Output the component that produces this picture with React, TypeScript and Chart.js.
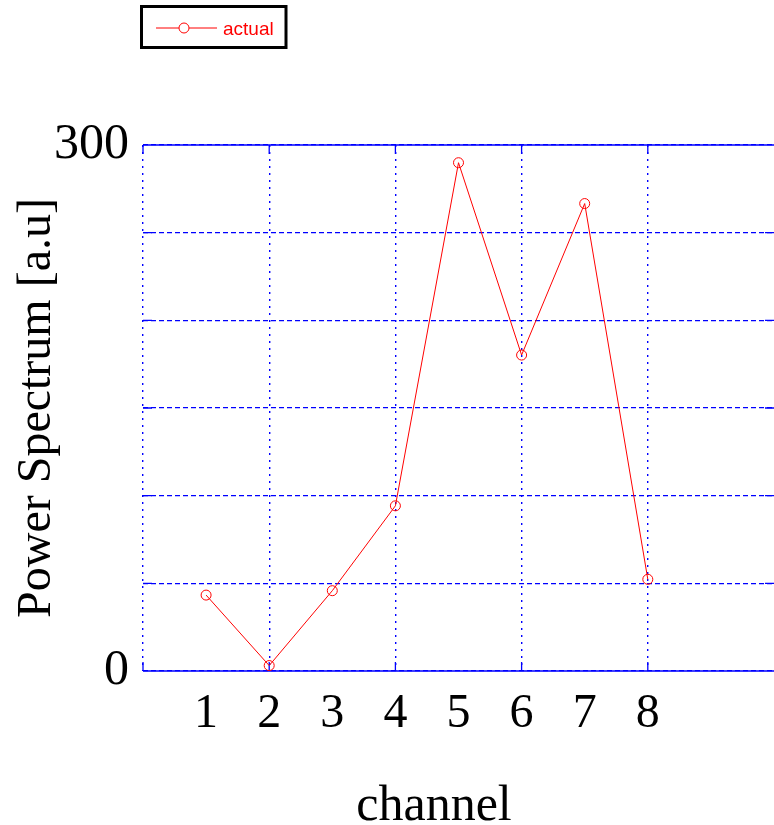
import React, { useEffect, useRef } from 'react';
import { Chart, registerables } from 'chart.js';

Chart.register(...registerables);

// Channel numbers and the measured power for each one
const channels = [1, 2, 3, 4, 5, 6, 7, 8];
const power = [43.3, 3.1, 45.8, 94.2, 289.9, 180.2, 266.6, 52.3];
// Only these y values get a printed label; the others keep grid lines only
const yLabelledTicks = [0, 300];
// x values that carry a vertical grid line
const xGridValues = [0, 2, 4, 6, 8];
const seriesLabel = 'actual';
const xTitle = 'channel';
const yTitle = 'Power Spectrum [a.u]';

const RED = 'rgb(255,0,0)';
const BLUE = 'rgb(0,0,255)';
const SERIF = '"Liberation Serif", "Times New Roman", serif';
const SANS = '"Liberation Sans", Arial, sans-serif';

// Solid top/bottom frame and short inward tick marks on all four sides
const framePlugin = {
  id: 'frame',
  beforeDatasetsDraw(chart: any) {
    const { ctx, chartArea, scales } = chart;
    const { left, right, top, bottom } = chartArea;
    const x = scales.x;
    const y = scales.y;
    ctx.save();
    ctx.strokeStyle = BLUE;
    ctx.lineWidth = 1.3;
    ctx.setLineDash([]);
    ctx.beginPath();
    ctx.moveTo(left, top);
    ctx.lineTo(right, top);
    ctx.moveTo(left, bottom);
    ctx.lineTo(right, bottom);
    y.ticks.forEach((t: any) => {
      const py = y.getPixelForValue(t.value);
      ctx.moveTo(left, py);
      ctx.lineTo(left + 9, py);
      ctx.moveTo(right, py);
      ctx.lineTo(right - 9, py);
    });
    x.ticks.forEach((t: any) => {
      if (xGridValues.includes(t.value)) {
        const px = x.getPixelForValue(t.value);
        ctx.moveTo(px, bottom);
        ctx.lineTo(px, bottom - 9);
        ctx.moveTo(px, top);
        ctx.lineTo(px, top + 9);
      }
    });
    ctx.stroke();
    ctx.restore();
  },
};

// Boxed legend in the top-left corner and the x-axis title
const annotatePlugin = {
  id: 'annotate',
  afterDraw(chart: any) {
    const { ctx } = chart;
    const ds = chart.data.datasets[0];
    ctx.save();
    // legend box
    ctx.strokeStyle = '#000';
    ctx.lineWidth = 3;
    ctx.strokeRect(141.5, 6.5, 144.5, 41);
    // sample line with marker
    ctx.strokeStyle = ds.borderColor;
    ctx.lineWidth = 1;
    ctx.beginPath();
    ctx.moveTo(156, 28);
    ctx.lineTo(179, 28);
    ctx.moveTo(189, 28);
    ctx.lineTo(217, 28);
    ctx.stroke();
    ctx.beginPath();
    ctx.arc(184, 28, 5, 0, Math.PI * 2);
    ctx.stroke();
    ctx.fillStyle = ds.borderColor;
    ctx.font = `19px ${SANS}`;
    ctx.textBaseline = 'alphabetic';
    ctx.textAlign = 'left';
    ctx.fillText(ds.label, 223, 35);
    // x-axis title
    ctx.fillStyle = '#000';
    ctx.font = `50px ${SERIF}`;
    ctx.textAlign = 'center';
    ctx.fillText(xTitle, 434, 820);
    ctx.restore();
  },
};

export default function App() {
  const canvasRef = useRef<HTMLCanvasElement | null>(null);

  useEffect(() => {
    const canvas = canvasRef.current;
    if (!canvas) return;
    const chart = new Chart(canvas, {
      type: 'line',
      data: {
        datasets: [
          {
            label: seriesLabel,
            data: channels.map((c, i) => ({ x: c, y: power[i] })),
            borderColor: RED,
            backgroundColor: 'rgba(0,0,0,0)',
            borderWidth: 1,
            pointRadius: 5,
            pointBorderWidth: 1,
            pointBorderColor: RED,
            pointBackgroundColor: 'rgba(0,0,0,0)',
            tension: 0,
            clip: false as any,
          },
        ],
      },
      options: {
        responsive: false,
        animation: false,
        layout: { autoPadding: false, padding: { top: 145, right: 0, left: 0, bottom: 0 } },
        plugins: {
          legend: { display: false },
          tooltip: { enabled: false },
        },
        scales: {
          x: {
            type: 'linear',
            min: 0,
            max: 10,
            afterFit: (scale: any) => {
              scale.height = 154;
              scale.paddingLeft = 0;
              scale.paddingRight = 0;
            },
            ticks: {
              stepSize: 1,
              autoSkip: false,
              maxRotation: 0,
              padding: 0,
              color: '#000',
              font: { family: SERIF, size: 48 },
              callback: (v: any) => (channels.includes(Number(v)) ? String(v) : ''),
            },
            grid: {
              drawTicks: true,
              tickLength: 15,
              tickColor: 'rgba(0,0,0,0)',
              lineWidth: 1.4,
              color: (c: any) =>
                c.tick && xGridValues.includes(c.tick.value) ? BLUE : 'rgba(0,0,0,0)',
            },
            border: { display: false, dash: [2, 5] },
          },
          y: {
            type: 'linear',
            min: 0,
            max: 300,
            afterFit: (scale: any) => {
              scale.width = 143;
            },
            ticks: {
              stepSize: 50,
              padding: 14,
              color: '#000',
              font: { family: SERIF, size: 50 },
              callback: (v: any) => (yLabelledTicks.includes(Number(v)) ? String(v) : ''),
            },
            grid: {
              drawTicks: false,
              lineWidth: 1.2,
              color: BLUE,
            },
            border: { display: false, dash: [5, 3] },
            title: {
              display: true,
              text: yTitle,
              color: '#000',
              font: { family: SERIF, size: 48 },
              padding: { top: 9, bottom: 0 },
            },
          },
        },
      },
      plugins: [framePlugin, annotatePlugin],
    });
    return () => chart.destroy();
  }, []);

  return (
    <div style={{ position: 'absolute', left: 0, top: 0, width: 774, height: 825, background: '#fff' }}>
      <canvas ref={canvasRef} width={774} height={825} />
    </div>
  );
}
